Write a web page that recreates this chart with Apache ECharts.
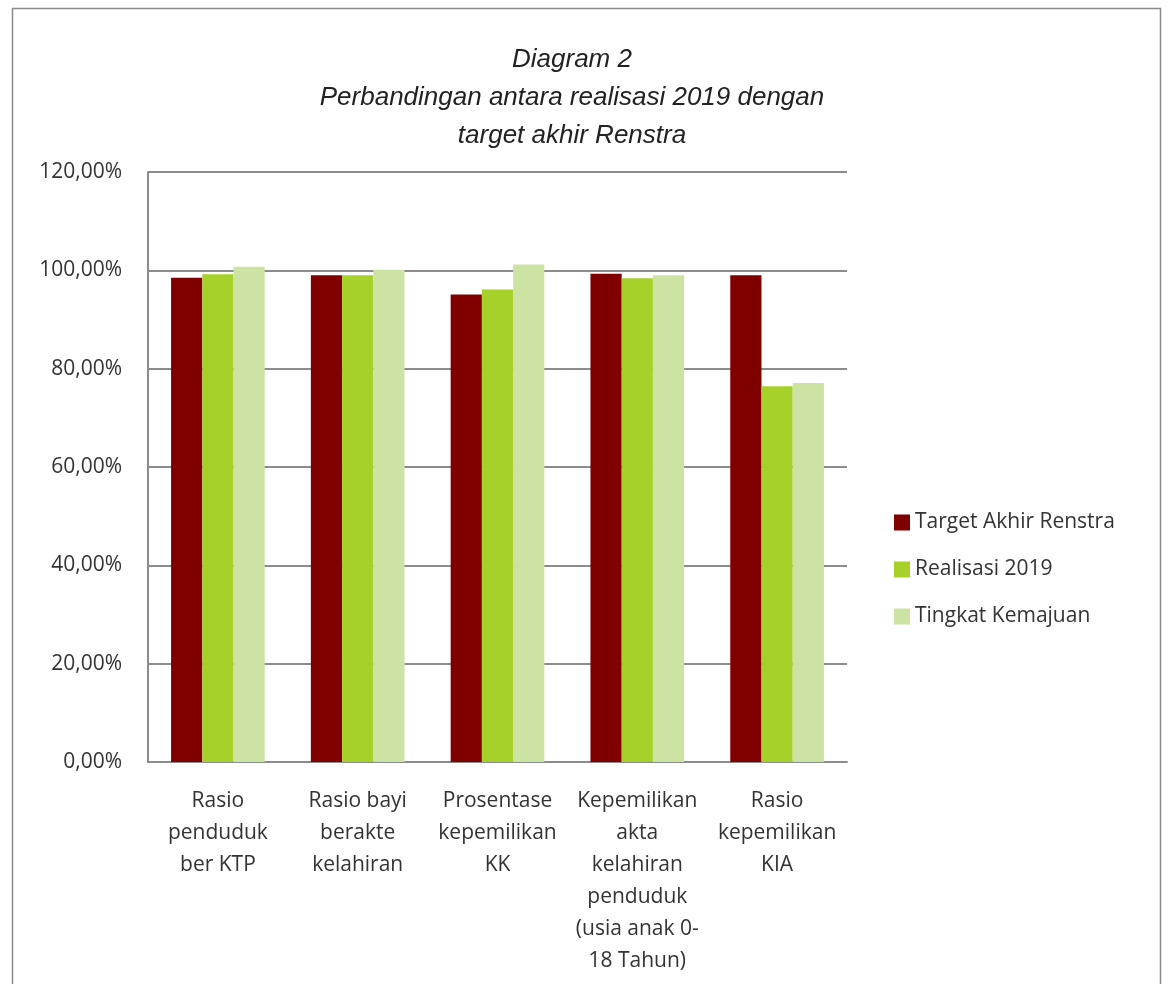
<!DOCTYPE html>
<html><head><meta charset="utf-8">
<script src="https://cdn.jsdelivr.net/npm/echarts@6/dist/echarts.min.js"></script>
<style>html,body{margin:0;padding:0;background:#fff}#c{width:1171px;height:984px}</style>
</head><body><div id="c"></div>
<script>
const categories = [
  'Rasio\npenduduk\nber KTP',
  'Rasio bayi\nberakte\nkelahiran',
  'Prosentase\nkepemilikan\nKK',
  'Kepemilikan\nakta\nkelahiran\npenduduk\n(usia anak 0-\n18 Tahun)',
  'Rasio\nkepemilikan\nKIA'
];
const seriesNames = ['Target Akhir Renstra', 'Realisasi 2019', 'Tingkat Kemajuan'];
const targetAkhir = [98.5, 99.0, 95.1, 99.3, 99.0];
const realisasi2019 = [99.2, 99.0, 96.1, 98.4, 76.4];
const tingkatKemajuan = [100.75, 100.1, 101.2, 99.0, 77.1];
const yTicks = [0, 20, 40, 60, 80, 100, 120];
const colors = ['#800000', '#a6d12a', '#cde3a4'];

const font = "'Open Sans', 'Noto Sans', sans-serif";
const chart = echarts.init(document.getElementById('c'));
const dataArr = [targetAkhir, realisasi2019, tingkatKemajuan];
chart.setOption({
  animation: false,
  graphic: [{type:'rect', shape:{x:12.5,y:8.5,width:1148,height:1000}, style:{fill:'none', stroke:'#8a8a8a', lineWidth:1.5}, z:-1}],
  title: {
    text: 'Diagram 2\nPerbandingan antara realisasi 2019 dengan\ntarget akhir Renstra',
    left: 567, top: 36, textAlign: 'center',
    textStyle: {fontFamily: "'Liberation Sans Narrow', 'Liberation Sans', Arial, sans-serif", fontStyle: 'italic', fontWeight: 'normal', fontSize: 26, lineHeight: 38, color: '#222'}
  },
  legend: {
    orient: 'vertical', left: 889, top: 507, itemGap: 26, itemWidth: 16, itemHeight: 16,
    icon: 'rect',
    textStyle: {fontFamily: font, fontSize: 21, color: '#333'},
    data: seriesNames
  },
  grid: {left: 148, top: 172, width: 699, height: 590, containLabel: false},
  xAxis: {
    type: 'category', data: categories,
    axisLine: {lineStyle: {color: '#8c8c8c', width: 2}},
    axisTick: {show: false},
    axisLabel: {fontFamily: font, fontSize: 21, color: '#333', lineHeight: 32, margin: 23, interval: 0}
  },
  yAxis: {
    type: 'value', min: yTicks[0], max: yTicks[yTicks.length - 1], interval: 20,
    axisLine: {show: true, lineStyle: {color: '#8c8c8c', width: 2}},
    axisTick: {show: false},
    splitLine: {lineStyle: {color: '#8c8c8c', width: 2}},
    axisLabel: {fontFamily: font, fontSize: 21, color: '#333', margin: 26,
      formatter: v => v.toFixed(2).replace('.', ',') + '%'}
  },
  series: seriesNames.map((n, i) => ({
    name: n, type: 'bar', data: dataArr[i], barGap: '0%', barCategoryGap: '33%',
    itemStyle: {color: colors[i]}
  }))
});
</script></body></html>
